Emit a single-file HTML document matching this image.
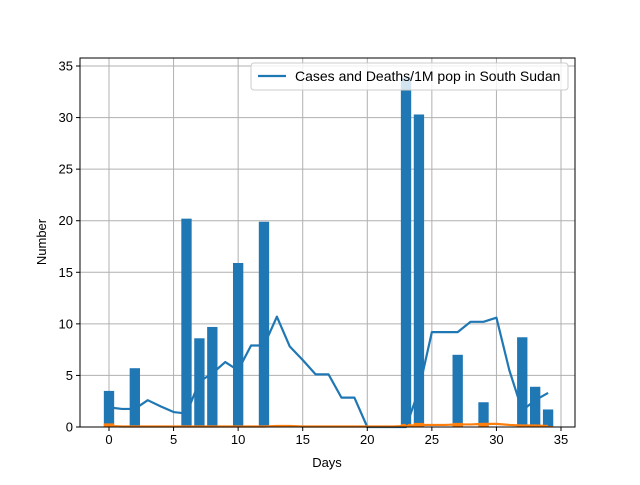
<!DOCTYPE html>
<html><head><meta charset="utf-8"><style>
body{margin:0;background:#fff}
svg text{font-family:"Liberation Sans","DejaVu Sans",sans-serif;fill:#000}
</style></head><body>
<svg id="chart" width="640" height="480" xmlns="http://www.w3.org/2000/svg"></svg>
<script>
const barDays=[0,2,6,7,8,10,12,23,24,27,29,32,33,34];
const barCases=[3.5,5.7,20.2,8.6,9.7,15.9,19.9,33.9,30.3,7.0,2.4,8.7,3.9,1.7];
const barDeaths=[0.35,0.05,0.05,0.05,0.05,0.05,0.05,0.3,0.4,0.4,0.3,0.2,0.2,0.1];
const lineCases=[1.9,1.75,1.75,2.6,2.0,1.45,1.3,4.4,5.2,6.3,5.5,7.9,7.9,10.7,7.8,6.5,5.1,5.1,2.85,2.85,0,0,0,0,3.6,9.2,9.2,9.2,10.2,10.2,10.6,5.5,1.6,2.6,3.3];
const lineDeaths=[0.1,0.05,0.05,0.05,0.05,0.05,0.05,0.05,0.05,0.05,0.05,0.05,0.05,0.1,0.1,0.05,0.05,0.05,0.05,0.05,0.05,0.05,0.05,0.1,0.2,0.2,0.2,0.25,0.25,0.3,0.3,0.2,0.15,0.15,0.1];
const xTicks=[0,5,10,15,20,25,30,35];
const yTicks=[0,5,10,15,20,25,30,35];
const NS="http://www.w3.org/2000/svg";
const svg=document.getElementById('chart');
const L=80,R=575,T=58,B=427;
const xs=d=>109+(561-109)*d/35;
const ys=v=>427-(427-66)*v/35;
function mk(tag,attrs,parent){const e=document.createElementNS(NS,tag);for(const k in attrs)e.setAttribute(k,attrs[k]);(parent||svg).appendChild(e);return e;}
xTicks.forEach(t=>{const g=mk('line',{x1:xs(t),x2:xs(t),y1:T,y2:B,stroke:'#b0b0b0','stroke-width':1});

});
yTicks.forEach(t=>{const g=mk('line',{x1:L,x2:R,y1:ys(t),y2:ys(t),stroke:'#b0b0b0','stroke-width':1});

});
const bw=(xs(0.8)-xs(0));
barDays.forEach((d,i)=>{const r=mk('rect',{x:xs(d)-bw/2,y:ys(barCases[i]),width:bw,height:ys(0)-ys(barCases[i]),fill:'#1f77b4'});

});
barDays.forEach((d,i)=>{const r=mk('rect',{x:xs(d)-bw/2,y:ys(barDeaths[i]),width:bw,height:ys(0)-ys(barDeaths[i]),fill:'#ff7f0e'});

});
const p1=mk('polyline',{points:lineCases.map((v,i)=>xs(i)+','+ys(v)).join(' '),fill:'none',stroke:'#1f77b4','stroke-width':2.2,'stroke-linejoin':'round'});


const p2=mk('polyline',{points:lineDeaths.map((v,i)=>xs(i)+','+ys(v)).join(' '),fill:'none',stroke:'#ff7f0e','stroke-width':2.2,'stroke-linejoin':'round'});


const fr=mk('rect',{x:L,y:T,width:R-L,height:B-T,fill:'none',stroke:'#000','stroke-width':1});


xTicks.forEach(t=>{mk('line',{x1:xs(t),x2:xs(t),y1:B,y2:B+4,stroke:'#000'});
const tx=mk('text',{x:xs(t),y:B+17,'text-anchor':'middle','font-size':13});tx.textContent=t;

});
yTicks.forEach(t=>{mk('line',{x1:L-4,x2:L,y1:ys(t),y2:ys(t),stroke:'#000'});
const tx=mk('text',{x:L-7,y:ys(t)+4.5,'text-anchor':'end','font-size':13});tx.textContent=t;

});
</script>
<svg width="640" height="480" style="position:absolute;left:0;top:0" xmlns="http://www.w3.org/2000/svg">
<text x="327" y="467" text-anchor="middle" font-size="13">Days</text>
<text x="46" y="242" text-anchor="middle" font-size="13" transform="rotate(-90 46 242)">Number</text>
<g>
<rect x="251" y="63" width="317" height="27" rx="3" fill="#fff" fill-opacity="0.8" stroke="#ccc"/>
<line x1="258" y1="76" x2="286" y2="76" stroke="#1f77b4" stroke-width="2.2"/>
<text x="295" y="81" font-size="14">Cases and Deaths/1M pop in South Sudan</text>
</g>
</svg>
</body></html>
